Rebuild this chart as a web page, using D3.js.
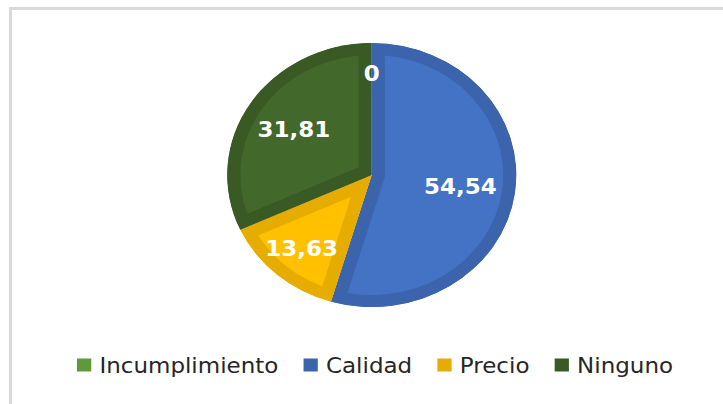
<!DOCTYPE html>
<html>
<head>
<meta charset="utf-8">
<script src="https://cdn.jsdelivr.net/npm/d3@7"></script>
<style>
  body { margin: 0; background: #fff; }
  svg { display: block; }
</style>
</head>
<body>
<div id="chart"></div>
<script>
// data
var categories = ["Incumplimiento", "Calidad", "Precio", "Ninguno"];
var values = [0, 54.54, 13.63, 31.81];
var valueLabels = ["0", "54,54", "13,63", "31,81"];

// styles
var fills = ["#70AD47", "#4472C4", "#FFC000", "#43682B"];
var edges = ["#5E9A3A", "#3B64AD", "#E6AC00", "#3A5A25"];
var labelRadius = [0.77, 0.62, 0.74, 0.64]; // fraction of radius, like excel best fit

var width = 723, height = 404;
var stretch = 1.095; // the original picture is a bit wider than tall
var cx = 339.5, cy = 175, radius = 132;

var data = categories.map(function (c, i) {
  return { name: c, value: values[i], label: valueLabels[i], i: i };
});

var svg = d3.select("#chart").append("svg")
  .attr("width", width)
  .attr("height", height);

// chart area frame (runs off the right and bottom)
svg.append("rect")
  .attr("x", 10.5).attr("y", 8.5)
  .attr("width", 800).attr("height", 500)
  .attr("fill", "none")
  .attr("stroke", "#d9d9d9")
  .attr("stroke-width", 3);

var root = svg.append("g")
  .attr("transform", "scale(" + stretch + ",1)");

var pie = d3.pie()
  .sort(null)
  .value(function (d) { return d.value; });

var arc = d3.arc()
  .innerRadius(0)
  .outerRadius(radius);

var arcs = pie(data);

var defs = svg.append("defs");
defs.selectAll("clipPath")
  .data(arcs)
  .enter().append("clipPath")
  .attr("id", function (d) { return "slice" + d.data.i; })
  .append("path")
  .attr("d", arc);

var g = root.append("g")
  .attr("transform", "translate(" + cx + "," + cy + ")");

g.selectAll("path.slice")
  .data(arcs)
  .enter().append("path")
  .attr("class", "slice")
  .attr("d", arc)
  .attr("fill", function (d) { return fills[d.data.i]; })
  .attr("stroke", function (d) { return edges[d.data.i]; })
  .attr("stroke-width", 24)
  .attr("stroke-linejoin", "miter")
  .attr("clip-path", function (d) { return "url(#slice" + d.data.i + ")"; });

g.selectAll("text.val")
  .data(arcs)
  .enter().append("text")
  .attr("class", "val")
  .attr("transform", function (d) {
    var r = radius * labelRadius[d.data.i];
    var c = d3.arc().innerRadius(r).outerRadius(r).centroid(d);
    return "translate(" + c + ")";
  })
  .attr("text-anchor", "middle")
  .attr("dy", "0.36em")
  .attr("fill", "#fff")
  .style("font-family", "'DejaVu Sans', sans-serif")
  .style("font-weight", "bold")
  .style("font-size", "21px")
  .text(function (d) { return d.data.label; });

// legend
var legend = root.append("g").attr("class", "legend");
var box = 13, gapIn = 7.5, gapOut = 23, baseY = 373;

var items = legend.selectAll("g.item")
  .data(data)
  .enter().append("g")
  .attr("class", "item");

items.append("rect")
  .attr("y", baseY - 14.5)
  .attr("width", box)
  .attr("height", box)
  .attr("fill", function (d) { return edges[d.i]; });

items.append("text")
  .attr("x", box + gapIn)
  .attr("y", baseY)
  .attr("fill", "#262626")
  .style("font-family", "'DejaVu Sans', sans-serif")
  .style("font-size", "21px")
  .text(function (d) { return d.name; });

var widths = [];
items.select("text").each(function () { widths.push(this.getComputedTextLength()); });
var total = d3.sum(widths) + data.length * (box + gapIn) + (data.length - 1) * gapOut;
var x = cx - total / 2 + 3;
items.attr("transform", function (d, i) {
  var t = "translate(" + x + ",0)";
  x += box + gapIn + widths[i] + gapOut;
  return t;
});
</script>
</body>
</html>
